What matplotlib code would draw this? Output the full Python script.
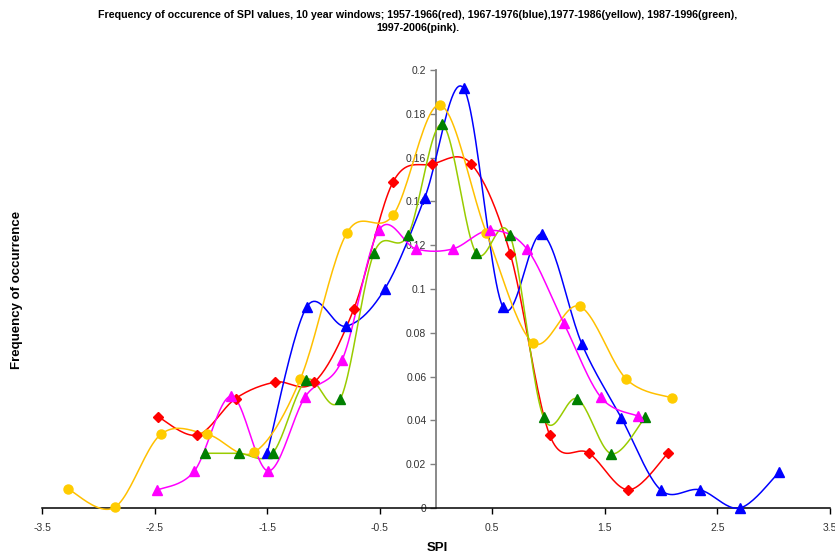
import numpy as np
import matplotlib
matplotlib.use("Agg")
import matplotlib.pyplot as plt
from matplotlib import font_manager

# ---- data: SPI bin centres and frequency of occurrence per decade ----
red_x = [-2.47, -2.12, -1.78, -1.43, -1.08, -0.73, -0.38, -0.035, 0.315, 0.66, 1.01, 1.36, 1.71, 2.06]
red_y = [0.0417, 0.0333, 0.05, 0.0575, 0.0575, 0.0909, 0.149, 0.157, 0.157, 0.116, 0.0333, 0.025, 0.0083, 0.025]

blue_x = [-1.50, -1.15, -0.80, -0.455, -0.10, 0.245, 0.595, 0.945, 1.295, 1.645, 1.995, 2.345, 2.70, 3.05]
blue_y = [0.025, 0.0917, 0.083, 0.1, 0.1417, 0.1917, 0.0917, 0.125, 0.075, 0.0413, 0.0083, 0.0083, 0.0, 0.0165]

yellow_x = [-3.27, -2.855, -2.445, -2.03, -1.617, -1.205, -0.794, -0.38, 0.035, 0.447, 0.86, 1.275, 1.69, 2.10]
yellow_y = [0.0087, 0.0003, 0.0336, 0.0336, 0.0254, 0.0589, 0.1254, 0.1338, 0.184, 0.1257, 0.0755, 0.0921, 0.0589, 0.0502]

green_x = [-2.055, -1.753, -1.452, -1.152, -0.851, -0.55, -0.248, 0.053, 0.354, 0.655, 0.955, 1.256, 1.556, 1.857]
green_y = [0.025, 0.025, 0.025, 0.0584, 0.0496, 0.1166, 0.1247, 0.1752, 0.1166, 0.1248, 0.0414, 0.0498, 0.0248, 0.0414]

pink_x = [-2.474, -2.146, -1.818, -1.49, -1.162, -0.834, -0.506, -0.178, 0.15, 0.478, 0.806, 1.134, 1.462, 1.79]
pink_y = [0.0082, 0.0169, 0.0511, 0.0169, 0.0508, 0.0676, 0.127, 0.1183, 0.1183, 0.1268, 0.1184, 0.0845, 0.0507, 0.042]

x_ticks = [-3.5, -2.5, -1.5, -0.5, 0.5, 1.5, 2.5, 3.5]
y_ticks = [0, 0.02, 0.04, 0.06, 0.08, 0.1, 0.12, 0.14, 0.16, 0.18, 0.2]
y_tick_labels = ["0", "0.02", "0.04", "0.06", "0.08", "0.1", "0.12", "0.14", "0.16", "0.18", "0.2"]

title = ("Frequency of occurence of SPI values, 10 year windows; 1957-1966(red), 1967-1976(blue),"
         "1977-1986(yellow), 1987-1996(green),\n1997-2006(pink).")

available = {f.name for f in font_manager.fontManager.ttflist}
narrow = "Liberation Sans Narrow" if "Liberation Sans Narrow" in available else "Liberation Sans"
base = "Liberation Sans"


def smooth(xs, ys, n=24):
    """Catmull-Rom style Bezier smoothing through the points."""
    p = np.column_stack([xs, ys]).astype(float)
    out = [p[0]]
    for i in range(len(p) - 1):
        p0 = p[i - 1] if i > 0 else p[i]
        p1, p2 = p[i], p[i + 1]
        p3 = p[i + 2] if i + 2 < len(p) else p[i + 1]
        c1 = p1 + (p2 - p0) / 6.0
        c2 = p2 - (p3 - p1) / 6.0
        t = np.linspace(0, 1, n)[1:, None]
        seg = ((1 - t) ** 3) * p1 + 3 * ((1 - t) ** 2) * t * c1 + 3 * (1 - t) * t ** 2 * c2 + t ** 3 * p2
        out.extend(seg)
    out = np.array(out)
    return out[:, 0], out[:, 1]


fig = plt.figure(figsize=(8.35, 5.54), dpi=100)
ax = fig.add_axes([42 / 835, 46 / 554, 788 / 835, 438 / 554])
ax.set_xlim(-3.5, 3.5)
ax.set_ylim(0, 0.2)

series = [
    (red_x, red_y, "#FF0000", "#FF0000", "D", 5.5),
    (blue_x, blue_y, "#0000FF", "#0000FF", "^", 7),
    (yellow_x, yellow_y, "#FFC000", "#FFCC00", "o", 6.5),
    (green_x, green_y, "#99CC00", "#008000", "^", 7),
    (pink_x, pink_y, "#FF00FF", "#FF00FF", "^", 7),
]
for xs, ys, lc, mc, mk, ms in series:
    sx, sy = smooth(xs, ys)
    ax.plot(sx, sy, color=lc, lw=1.1, zorder=3, clip_on=False)
    ax.plot(xs, ys, linestyle="none", marker=mk, ms=ms, color=mc,
            markeredgecolor=mc, zorder=4, clip_on=False)

# axes styled with the vertical axis crossing at SPI = 0
for s in ("top", "right"):
    ax.spines[s].set_visible(False)
ax.spines["left"].set_position(("data", 0))
ax.spines["left"].set_color("#808080")
ax.spines["left"].set_linewidth(1.3)
ax.spines["bottom"].set_color("black")
ax.spines["bottom"].set_linewidth(1.1)

ax.set_xticks(x_ticks)
ax.set_xticklabels([f"{v:g}" for v in x_ticks])
ax.set_yticks(y_ticks)
ax.set_yticklabels(y_tick_labels)
ax.tick_params(axis="x", direction="out", length=4, width=1, color="black",
               labelsize=7.5, labelcolor="#333333", pad=7)
ax.tick_params(axis="y", direction="out", length=4, width=1, color="#808080",
               labelsize=7.5, labelcolor="#333333", pad=3)
for lab in ax.get_xticklabels() + ax.get_yticklabels():
    lab.set_fontfamily(base)

fig.text(17 / 835, 1 - 290 / 554, "Frequency of occurrence", rotation=90,
         ha="center", va="center", fontsize=9.5, fontweight="bold", family=base)
fig.text(437 / 835, 1 - 548 / 554, "SPI", ha="center", va="center",
         fontsize=9.5, fontweight="bold", family=base)
fig.text(418 / 835, 1 - 21.5 / 554, title, ha="center", va="center",
         fontsize=7.7, fontweight="bold", family=narrow, linespacing=1.4)

fig.savefig("out.png", dpi=100, facecolor="white")
